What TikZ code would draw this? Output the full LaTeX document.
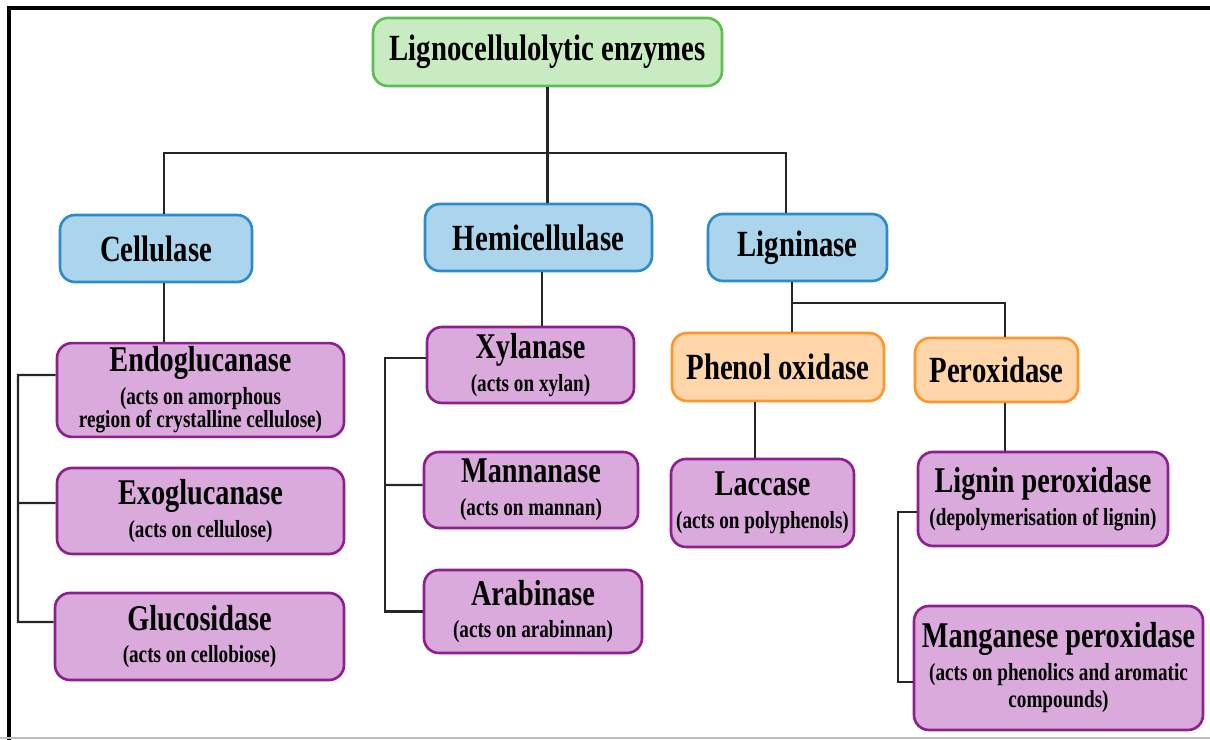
\documentclass[tikz,border=0pt]{standalone}
\usepackage{fontspec}
\setmainfont{Liberation Serif}[FakeStretch=0.78]

\definecolor{rootfill}{HTML}{C8EBC2}
\definecolor{rootline}{HTML}{5CBF50}
\definecolor{groupfill}{HTML}{AAD5EC}
\definecolor{groupline}{HTML}{2E8BC9}
\definecolor{classfill}{HTML}{FFD6AA}
\definecolor{classline}{HTML}{FF962A}
\definecolor{enzfill}{HTML}{D9AADB}
\definecolor{enzline}{HTML}{8E1F8E}

\newcommand{\enz}[2]{{\fontsize{10.3}{10}\selectfont #1}\\#2}

\tikzset{
	box/.style={draw, rounded corners=0.15cm, line width=0.75pt, align=center, inner sep=1pt},
	rootbox/.style={box, draw=rootline, fill=rootfill, font=\bfseries\fontsize{10.5}{12}\selectfont},
	groupbox/.style={box, draw=groupline, fill=groupfill, font=\bfseries\fontsize{10.5}{12}\selectfont},
	classbox/.style={box, draw=classline, fill=classfill, font=\bfseries\fontsize{10.5}{12}\selectfont},
	enzbox/.style={box, draw=enzline, fill=enzfill, font=\bfseries\fontsize{7}{9.3}\selectfont},
	link/.style={line width=0.6pt, draw=black!85}
}

\begin{document}
\begin{tikzpicture}
	\useasboundingbox (0,0) rectangle (12.1,7.4);
	%%% Frame
	\draw[line width=0.9pt] (12.1,7.32) -- (0.09,7.32) -- (0.09,0);
	\draw[line width=0.6pt, black!25] (0,0.02) -- (12.1,0.02);
	%%% Root and groups
	\node[rootbox, minimum width=3.49cm, minimum height=0.68cm] (root) at (5.475,6.88) {Lignocellulolytic enzymes};
	\node[groupbox, minimum width=1.92cm, minimum height=0.67cm] (cell) at (1.56,4.915) {Cellulase};
	\node[groupbox, minimum width=2.27cm, minimum height=0.67cm] (hemi) at (5.385,5.025) {Hemicellulase};
	\node[groupbox, minimum width=1.79cm, minimum height=0.67cm] (lign) at (7.975,4.925) {Ligninase};
	%%% Ligninase classes
	\node[classbox, minimum width=2.12cm, minimum height=0.68cm] (phen) at (7.78,3.73) {Phenol oxidase};
	\node[classbox, minimum width=1.63cm, minimum height=0.64cm] (perox) at (9.965,3.70) {Peroxidase};
	%%% Enzymes
	\node[enzbox, minimum width=2.87cm, minimum height=0.90cm] (endo) at (2.005,3.50) {\enz{Endoglucanase}{(acts on amorphous\\[-2.6pt]region of crystalline cellulose)}};
	\node[enzbox, minimum width=2.87cm, minimum height=0.86cm] (exo) at (2.005,2.29) {\enz{Exoglucanase}{(acts on cellulose)}};
	\node[enzbox, minimum width=2.89cm, minimum height=0.87cm] (gluco) at (1.995,1.035) {\enz{Glucosidase}{(acts on cellobiose)}};
	\node[enzbox, minimum width=2.07cm, minimum height=0.76cm] (xyl) at (5.305,3.75) {\enz{Xylanase}{(acts on xylan)}};
	\node[enzbox, minimum width=2.14cm, minimum height=0.76cm] (mann) at (5.31,2.50) {\enz{Mannanase}{(acts on mannan)}};
	\node[enzbox, minimum width=2.18cm, minimum height=0.83cm] (arab) at (5.33,1.285) {\enz{Arabinase}{(acts on arabinnan)}};
	\node[enzbox, minimum width=1.83cm, minimum height=0.88cm] (lacc) at (7.625,2.37) {\enz{Laccase}{(acts on polyphenols)}};
	\node[enzbox, minimum width=2.50cm, minimum height=0.94cm] (lignp) at (10.43,2.41) {\enz{Lignin peroxidase}{(depolymerisation of lignin)}};
	\node[enzbox, minimum width=2.89cm, minimum height=1.24cm] (mang) at (10.585,0.72) {\enz{Manganese peroxidase}{(acts on phenolics and aromatic\\[-1.5pt]compounds)}};
	%%% Tree lines
	\coordinate (bus) at (5.44,5.87);
	\coordinate (lbus) at (7.92,4.37);
	\draw[link] (root.south) -- (root.south |- hemi.north);
	\draw[link] ([xshift=0.08cm]cell.north) |- (bus) -| ([xshift=-0.115cm]lign.north);
	\draw[link] ([xshift=0.08cm]cell.south) -- ([xshift=0.08cm]cell.south |- endo.north);
	\draw[link] ([xshift=0.035cm]hemi.south) -- ([xshift=0.035cm]hemi.south |- xyl.north);
	\draw[link] (lign.south -| lbus) -- (phen.north -| lbus);
	\draw[link] (lbus) -| ([xshift=0.085cm]perox.north);
	\draw[link] ([xshift=-0.075cm]lacc.north) -- ([xshift=-0.075cm]lacc.north |- phen.south);
	\draw[link] ([xshift=0.085cm]perox.south) -- ([xshift=0.085cm]perox.south |- lignp.north);
	%%% Side brackets
	\draw[link] ([yshift=0.15cm]endo.west) -| (0.18,1.18) -- ([yshift=0.145cm]gluco.west);
	\draw[link] ([yshift=0.08cm]exo.west) -- (0.18,2.37);
	\draw[link] ([yshift=0.07cm]xyl.west) -| (3.85,1.285) -- (arab.west);
	\draw[link] ([yshift=0.05cm]mann.west) -- (3.85,2.55);
	\draw[link] ([yshift=-0.13cm]lignp.west) -| (8.98,0.58) -- ([yshift=-0.14cm]mang.west);
\end{tikzpicture}
\end{document}
